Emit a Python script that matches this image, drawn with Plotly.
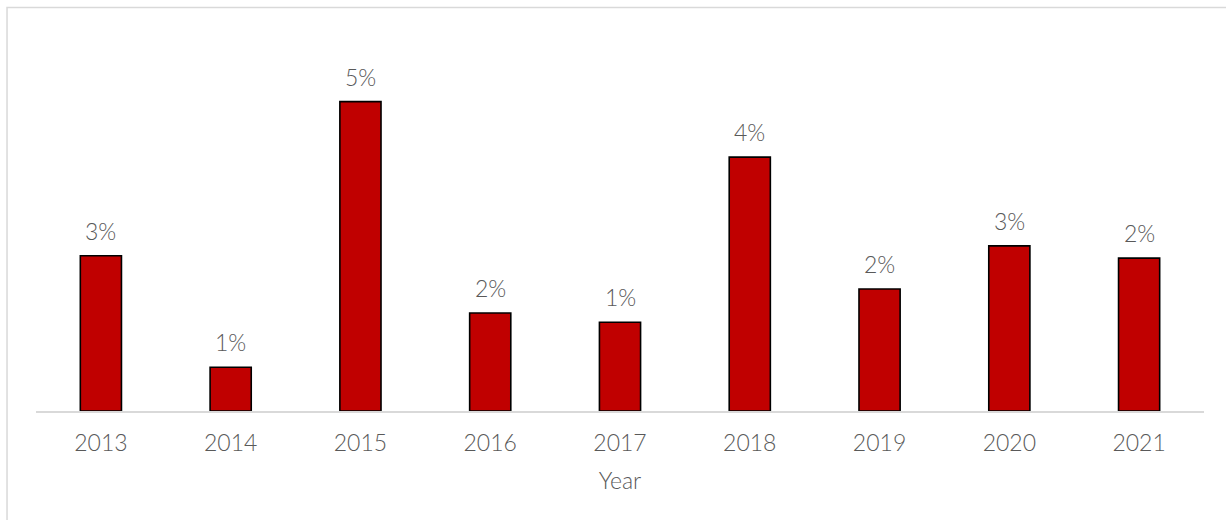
import plotly.graph_objects as go

# Annual rates by year
years = ["2013", "2014", "2015", "2016", "2017", "2018", "2019", "2020", "2021"]
rates = [0.0252, 0.0071, 0.0502, 0.0159, 0.0144, 0.0412, 0.0198, 0.0268, 0.0248]

FONT = "Lato"
WEIGHT = 300
TEXT_GRAY = "#595959"
BAR_RED = "#c00000"
LINE_GRAY = "#d9d9d9"

fig = go.Figure(
    go.Bar(
        x=years,
        y=rates,
        marker=dict(color=BAR_RED, line=dict(color="#000000", width=1.6)),
        hovertemplate="%{x}: %{y:.1%}<extra></extra>",
    )
)

# Value labels sit a little above each bar, formatted from the bar value
label_font = dict(family=FONT, size=23, color=TEXT_GRAY, weight=WEIGHT)
annotations = [
    dict(
        x=i,
        y=val,
        xref="x",
        yref="y",
        text=f"{val:.0%}",
        showarrow=False,
        yanchor="bottom",
        yshift=9,
        font=label_font,
    )
    for i, val in enumerate(rates)
]

fig.update_layout(
    width=1226,
    height=520,
    margin=dict(l=36, r=22, t=40, b=109, autoexpand=False),
    paper_bgcolor="white",
    plot_bgcolor="white",
    bargap=0.683,
    showlegend=False,
    font=dict(family=FONT, color=TEXT_GRAY, weight=WEIGHT),
    annotations=annotations,
    xaxis=dict(
        type="category",
        categoryorder="array",
        categoryarray=years,
        showline=True,
        linecolor=LINE_GRAY,
        linewidth=1.5,
        showgrid=False,
        ticks="",
        ticklabelstandoff=11,
        tickfont=label_font,
        title=dict(text="Year", font=label_font, standoff=18),
        automargin=False,
    ),
    yaxis=dict(
        range=[0, 0.0602],
        visible=False,
        showgrid=False,
        zeroline=False,
    ),
    shapes=[
        dict(
            type="rect",
            xref="paper",
            yref="paper",
            x0=-0.0248,
            x1=1.05,
            y0=-0.4,
            y1=1.0876,
            line=dict(color=LINE_GRAY, width=1.5),
            fillcolor="rgba(0,0,0,0)",
            layer="below",
        )
    ],
)

fig.write_html("out.html")
